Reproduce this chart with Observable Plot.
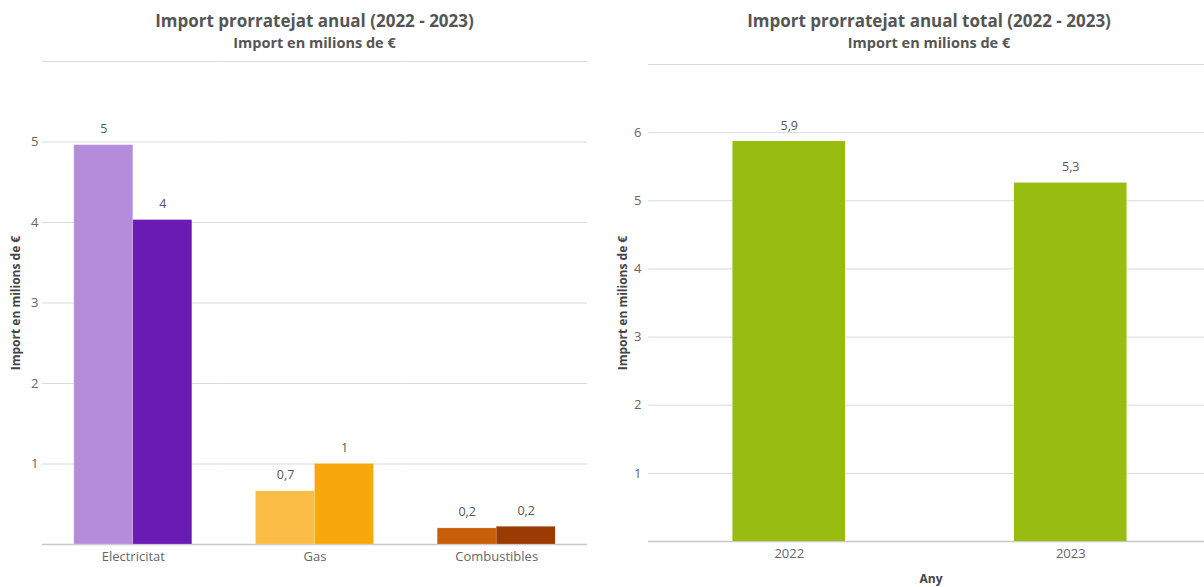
<!DOCTYPE html>
<html><head><meta charset="utf-8">
<script src="https://cdn.jsdelivr.net/npm/d3@7"></script>
<script src="https://cdn.jsdelivr.net/npm/@observablehq/plot@0.6"></script>
<style>
body{margin:0;background:#fff;font-family:"Open Sans",sans-serif;}
#wrap{display:flex;width:1204px;height:587px;overflow:hidden;position:relative}
.panel{width:602px;height:587px;position:relative;flex:none}
.head{height:52px;box-sizing:border-box;text-align:center;color:#555;font-weight:bold}
.t{font-size:17px;line-height:20px;padding-top:11px}
.s{font-size:14.5px;line-height:18px;margin-top:3px}
.ylab{position:absolute;font-size:12px;font-weight:bold;color:#444;white-space:nowrap;transform:translate(-50%,-50%) rotate(-90deg)}
.xlab{position:absolute;font-size:12px;font-weight:bold;color:#444;white-space:nowrap;transform:translate(-50%,-50%)}
svg{display:block}
</style>
</head><body>
<div id="wrap">
  <div class="panel" id="left">
    <div class="head" style="padding-left:42px;padding-right:15px"><div class="t">Import prorratejat anual (2022 - 2023)</div><div class="s">Import en milions de €</div></div>
    <div class="ylab" style="left:15px;top:303px">Import en milions de €</div>
  </div>
  <div class="panel" id="right">
    <div class="head" style="padding-left:52px"><div class="t">Import prorratejat anual total (2022 - 2023)</div><div class="s">Import en milions de €</div></div>
    <div class="ylab" style="left:20px;top:303px">Import en milions de €</div>
    <div class="xlab" style="left:329px;top:578px">Any</div>
  </div>
</div>
<script>
const categories = ["Electricitat", "Gas", "Combustibles"];
const years = ["2022", "2023"];
const values2022 = [4.96, 0.66, 0.20];
const values2023 = [4.03, 1.00, 0.22];
const colors2022 = ["#b58cdc", "#fbbd45", "#c95e08"];
const colors2023 = ["#6a1bb3", "#f9a80b", "#9b3a03"];
const leftTicks = [1, 2, 3, 4, 5];
const leftGrid = [0, 1, 2, 3, 4, 5, 6];

const totalYears = ["2022", "2023"];
const totalValues = [5.87, 5.26];
const totalColor = "#98bc0f";
const rightTicks = [1, 2, 3, 4, 5, 6];
const rightGrid = [0, 1, 2, 3, 4, 5, 6, 7];

const fmt = v => String(Math.round(v * 10) / 10).replace(".", ",");

const leftData = [];
categories.forEach((c, i) => {
  leftData.push({category: c, year: years[0], value: values2022[i], color: colors2022[i]});
  leftData.push({category: c, year: years[1], value: values2023[i], color: colors2023[i]});
});
const rightData = totalYears.map((y, i) => ({year: y, value: totalValues[i]}));

const baseStyle = {fontFamily: "'Open Sans', sans-serif", fontSize: "13px", color: "#666", background: "white", overflow: "visible"};

const left = Plot.plot({
  width: 602, height: 535,
  marginTop: 9, marginBottom: 43, marginLeft: 42, marginRight: 15,
  style: baseStyle,
  fx: {domain: categories, padding: 0, round: false, label: null, axis: "bottom", tickSize: 0, tickPadding: 7},
  x: {domain: years, axis: null, round: false, paddingInner: 0, paddingOuter: 0.54},
  y: {domain: [0, 6], axis: null},
  marks: [
    Plot.ruleY(leftGrid, {stroke: "#dadada", strokeWidth: 1}),
    Plot.ruleY([0], {stroke: "#c8c8c8", strokeWidth: 1.5}),
    Plot.barY(leftData, {fx: "category", x: "year", y: "value", fill: "color", stroke: "white", strokeOpacity: 0.35, strokeWidth: 0.5}),
    Plot.text(leftData, {fx: "category", x: "year", y: "value", text: d => fmt(d.value), dy: -16, fill: "#555", fontSize: 12.5}),
    Plot.axisY(leftTicks, {tickSize: 0, tickPadding: 4, label: null, fill: "#666", fontSize: 13, tickFormat: d => String(d)})
  ]
});
document.getElementById("left").appendChild(left);

const right = Plot.plot({
  width: 602, height: 535,
  marginTop: 12, marginBottom: 46, marginLeft: 46, marginRight: 0,
  style: baseStyle,
  x: {domain: totalYears, range: [46, 609], round: false, paddingInner: 0.6, paddingOuter: 0.3, axis: null},
  y: {domain: [0, 7], axis: null},
  marks: [
    Plot.ruleY(rightGrid, {stroke: "#dadada", strokeWidth: 1}),
    Plot.ruleY([0], {stroke: "#c8c8c8", strokeWidth: 1.5}),
    Plot.barY(rightData, {x: "year", y: "value", fill: totalColor}),
    Plot.text(rightData, {x: "year", y: "value", text: d => fmt(d.value), dy: -16, fill: "#555", fontSize: 12.5}),
    Plot.axisY(rightTicks, {tickSize: 0, tickPadding: 7, label: null, fill: "#666", fontSize: 13, tickFormat: d => String(d)}),
    Plot.axisX(totalYears, {tickSize: 0, tickPadding: 7, label: null, fill: "#666", fontSize: 13})
  ]
});
document.getElementById("right").appendChild(right);
</script>
</body></html>
